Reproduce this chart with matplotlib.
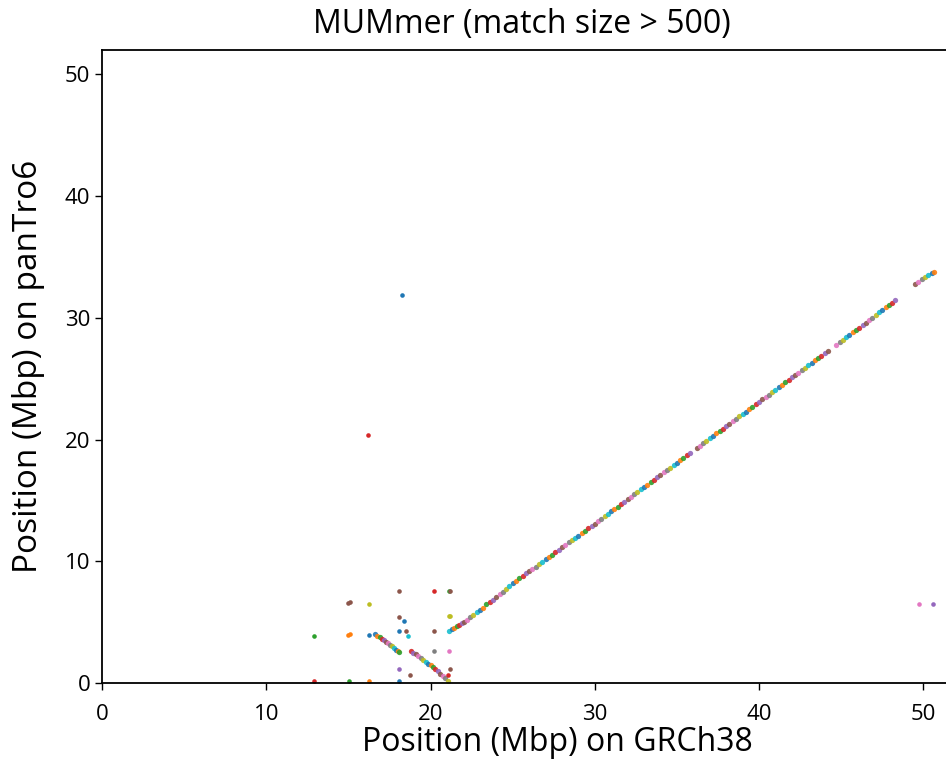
"""
plot.py - MUMmer dot plot of GRCh38 vs panTro6 matches (size > 500).
"""

import matplotlib
matplotlib.use("Agg")
import matplotlib.pyplot as plt

plt.rcParams['font.family'] = ['Open Sans', 'DejaVu Sans']

TAB10 = plt.rcParams['axes.prop_cycle'].by_key()['color']

# main syntenic diagonal (Mbp on GRCh38, Mbp on panTro6)
diag_x = [21.15, 21.3, 21.45, 21.6, 21.75, 21.9, 22.05, 22.2, 22.4, 22.6, 22.8, 23.0,
          23.2, 23.4, 23.6, 23.8, 24.0, 24.2, 24.4, 24.6, 24.8, 25.0, 25.2, 25.4,
          25.6, 25.8, 26.0, 26.2, 26.4, 26.6, 26.8, 27.0, 27.2, 27.4, 27.6, 27.8,
          28.0, 28.2, 28.4, 28.6, 28.8, 29.0, 29.2, 29.4, 29.6, 29.8, 30.0, 30.2,
          30.4, 30.6, 30.8, 31.0, 31.2, 31.4, 31.6, 31.8, 32.0, 32.2, 32.4, 32.6,
          32.8, 33.0, 33.2, 33.4, 33.6, 33.8, 34.0, 34.2, 34.4, 34.6, 34.8, 35.0,
          35.2, 35.4, 35.6, 35.8, 36.2, 36.4, 36.6, 36.8, 37.0, 37.2, 37.4, 37.6,
          37.8, 38.0, 38.2, 38.4, 38.6, 38.8, 39.0, 39.2, 39.4, 39.6, 39.8, 40.0,
          40.2, 40.4, 40.6, 40.8, 41.0, 41.2, 41.4, 41.6, 41.8, 42.0, 42.2, 42.4,
          42.6, 42.8, 43.0, 43.2, 43.4, 43.6, 43.8, 44.0, 44.2, 44.7, 44.9, 45.1,
          45.3, 45.5, 45.7, 45.9, 46.1, 46.3, 46.5, 46.7, 46.9, 47.1, 47.3, 47.5,
          47.7, 47.9, 48.1, 48.3, 49.5, 49.7, 49.9, 50.1, 50.3, 50.5, 50.65]
diag_y = [4.3, 4.4, 4.5, 4.65, 4.75, 4.9, 5.05, 5.2, 5.4, 5.6, 5.8, 6.0,
          6.2, 6.45, 6.65, 6.85, 7.1, 7.3, 7.5, 7.75, 7.95, 8.2, 8.4, 8.6,
          8.8, 9.0, 9.2, 9.4, 9.55, 9.75, 9.95, 10.15, 10.35, 10.55, 10.75, 10.95,
          11.15, 11.35, 11.55, 11.75, 11.95, 12.1, 12.3, 12.5, 12.7, 12.9, 13.1, 13.3,
          13.5, 13.7, 13.9, 14.1, 14.3, 14.5, 14.7, 14.9, 15.1, 15.3, 15.5, 15.7,
          15.9, 16.1, 16.3, 16.5, 16.7, 16.9, 17.1, 17.3, 17.5, 17.7, 17.9, 18.1,
          18.3, 18.5, 18.7, 18.9, 19.3, 19.5, 19.7, 19.9, 20.1, 20.3, 20.5, 20.7,
          20.9, 21.1, 21.3, 21.5, 21.7, 21.9, 22.1, 22.3, 22.5, 22.7, 22.9, 23.1,
          23.3, 23.5, 23.7, 23.9, 24.1, 24.3, 24.5, 24.7, 24.9, 25.1, 25.3, 25.5,
          25.7, 25.9, 26.1, 26.3, 26.5, 26.7, 26.9, 27.1, 27.3, 27.8, 28.0, 28.2,
          28.4, 28.6, 28.8, 29.0, 29.2, 29.4, 29.6, 29.8, 30.0, 30.2, 30.45, 30.65,
          30.85, 31.05, 31.25, 31.45, 32.75, 32.95, 33.15, 33.35, 33.55, 33.7, 33.8]

# two inverted blocks near the start
inv1_x = [16.65, 16.77, 16.9, 17.02, 17.15, 17.27, 17.4, 17.52, 17.65, 17.77, 17.9, 18.0, 18.1]
inv1_y = [4.0, 3.88, 3.75, 3.63, 3.5, 3.38, 3.25, 3.13, 3.0, 2.88, 2.75, 2.66, 2.57]
inv2_x = [18.8, 18.95, 19.1, 19.25, 19.4, 19.55, 19.7, 19.85, 20.0, 20.15, 20.3, 20.45,
          20.6, 20.75, 20.9, 21.05]
inv2_y = [2.65, 2.5, 2.35, 2.2, 2.05, 1.9, 1.75, 1.6, 1.45, 1.3, 1.12, 0.95,
          0.77, 0.58, 0.4, 0.2]

# isolated matches with the colour they were drawn in
iso_x = [12.93, 12.93, 15.0, 15.1, 15.0, 15.1, 15.02, 16.24, 16.24, 16.24, 16.2, 18.25,
         18.1, 18.1, 18.4, 18.1, 18.5, 18.6, 18.1, 18.1, 18.75, 20.24, 21.1, 21.2,
         21.1, 21.2, 20.24, 20.24, 21.1, 21.2, 21.05, 49.76, 50.6]
iso_y = [3.86, 0.15, 6.6, 6.65, 3.95, 4.0, 0.15, 6.5, 3.97, 0.15, 20.35, 31.9,
         7.53, 5.45, 5.1, 4.3, 4.3, 3.86, 1.12, 0.15, 0.66, 7.53, 7.53, 7.53,
         5.5, 5.5, 4.3, 2.65, 2.65, 1.12, 0.66, 6.46, 6.53]
iso_c = [2, 3, 5, 5, 1, 1, 2, 8, 0, 1, 3, 0,
         5, 5, 0, 0, 5, 9, 4, 0, 5, 3, 2, 5,
         8, 8, 5, 7, 6, 5, 3, 6, 4]


def main():
    fig = plt.figure(figsize=(9.46, 7.6), dpi=100)
    # the original figure was wider; its right part is cropped away
    ax = fig.add_axes([0.1078, 0.1013, 0.962, 0.8329])

    k = 0
    for xs, ys in [(inv1_x, inv1_y), (inv2_x, inv2_y), (diag_x, diag_y)]:
        for x, y in zip(xs, ys):
            ax.plot([x], [y], 'o', ms=3.8, mew=0, alpha=0.9, color=TAB10[k % 10])
            k += 1
    for x, y, c in zip(iso_x, iso_y, iso_c):
        ax.plot([x], [y], 'o', ms=3.3, mew=0, color=TAB10[c])

    ax.set_xlim(0, 55.4)
    ax.set_ylim(0, 52)
    ax.set_xticks([0, 10, 20, 30, 40, 50])
    ax.set_yticks([0, 10, 20, 30, 40, 50])
    ax.tick_params(labelsize=16, length=5, width=1)
    ax.tick_params(axis='x', pad=10)
    for s in ax.spines.values():
        s.set_linewidth(1.3)
    ax.set_xlabel("Position (Mbp) on GRCh38", fontsize=23, labelpad=1)
    ax.set_ylabel("Position (Mbp) on panTro6", fontsize=24, labelpad=14)
    fig.text(0.552, 1 - 24 / 760, "MUMmer (match size > 500)", fontsize=23,
             ha='center', va='center')

    fig.savefig("out.png", dpi=100)
    plt.close(fig)


if __name__ == "__main__":
    main()
